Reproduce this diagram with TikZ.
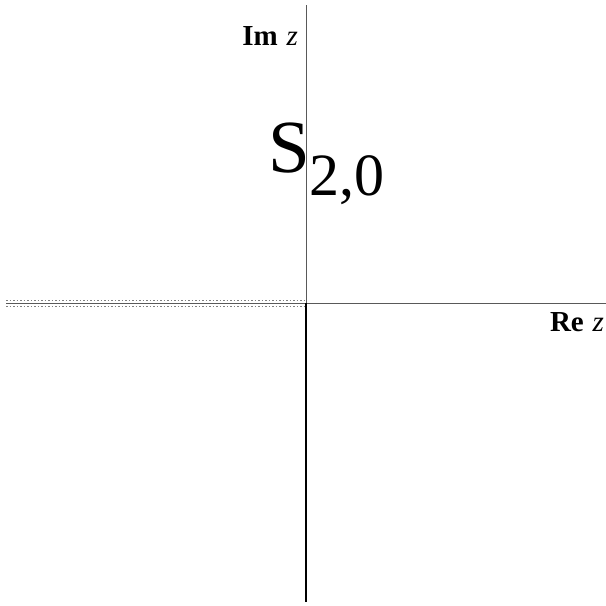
\documentclass[tikz,border=0pt]{standalone}
\usepackage{fontspec}
\setmainfont{Liberation Serif}
\begin{document}
\begin{tikzpicture}[x=1pt,y=-1pt]
\useasboundingbox (0,0) rectangle (606,606);
\coordinate (o) at (306,303);
\coordinate (w) at (6,303);
\coordinate (e) at (606,303);
\coordinate (n) at (306,5);
\coordinate (s) at (306,602);
\coordinate (wa) at (6,300.5);
\coordinate (oa) at (304,300.5);
\coordinate (wb) at (6,306);
\coordinate (ob) at (304,306);
\draw[gray!70!black, line width=1pt] (w) -- (e);
\draw[gray!70!black, line width=0.9pt] (n) -- (o);
\draw[black, line width=2.6pt] (o) -- (s);
\draw[gray, line width=1pt, dash pattern=on 1.5pt off 2pt] (wa) -- (oa);
\draw[gray, line width=1pt, dash pattern=on 1.5pt off 2pt] (wb) -- (ob);
\node[anchor=base east, font=\fontsize{29}{29}\selectfont, inner sep=0pt] (im) at (298,45) {\textbf{Im}\hspace{0.3em}\textit{z}};
\node[anchor=base east, font=\fontsize{29}{29}\selectfont, inner sep=0pt] (re) at (604,331) {\textbf{Re}\hspace{0.3em}\textit{z}};
\node[anchor=base west, inner sep=0pt] (s20) at (268,172) {\fontsize{75}{75}\selectfont S\raisebox{-23pt}{\fontsize{60}{60}\selectfont 2,0}};
\end{tikzpicture}
\end{document}
